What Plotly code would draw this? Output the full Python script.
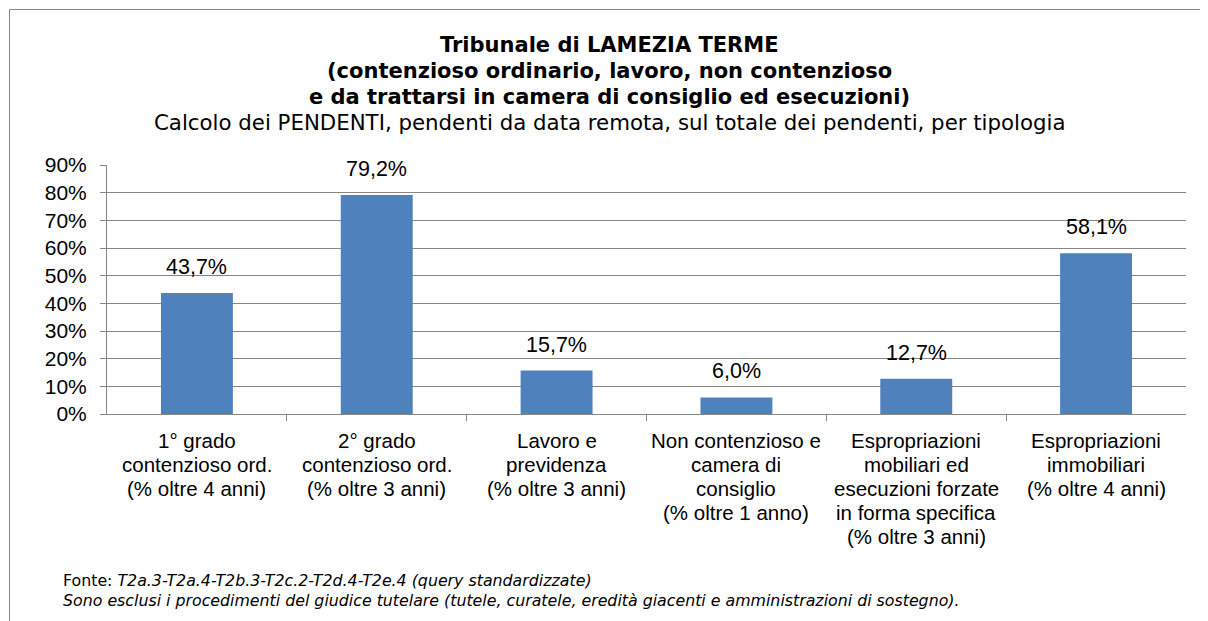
import plotly.graph_objects as go

categories = [
    "1° grado<br>contenzioso ord.<br>(% oltre 4 anni)",
    "2° grado<br>contenzioso ord.<br>(% oltre 3 anni)",
    "Lavoro e<br>previdenza<br>(% oltre 3 anni)",
    "Non contenzioso e<br>camera di<br>consiglio<br>(% oltre 1 anno)",
    "Espropriazioni<br>mobiliari ed<br>esecuzioni forzate<br>in forma specifica<br>(% oltre 3 anni)",
    "Espropriazioni<br>immobiliari<br>(% oltre 4 anni)",
]
values = [0.437, 0.792, 0.157, 0.060, 0.127, 0.581]
value_labels = ["43,7%", "79,2%", "15,7%", "6,0%", "12,7%", "58,1%"]
y_ticks = [0, 0.1, 0.2, 0.3, 0.4, 0.5, 0.6, 0.7, 0.8, 0.9]
y_tick_labels = ["0%", "10%", "20%", "30%", "40%", "50%", "60%", "70%", "80%", "90%"]

title_lines = [
    "<b>Tribunale di LAMEZIA TERME</b>",
    "<b>(contenzioso ordinario, lavoro, non contenzioso</b>",
    "<b>e da trattarsi in camera di consiglio ed esecuzioni)</b>",
]
subtitle = "Calcolo dei PENDENTI, pendenti da data remota, sul totale dei pendenti, per tipologia"
footer_lines = [
    "Fonte: <i>T2a.3-T2a.4-T2b.3-T2c.2-T2d.4-T2e.4 (query standardizzate)</i>",
    "<i>Sono esclusi i procedimenti del giudice tutelare (tutele, curatele, eredità giacenti e amministrazioni di sostegno).</i>",
]

OFF = 8  # page body margin
W, H = 1208 - OFF, 621 - OFF
L, R, T, B = 107 - OFF, 1186 - OFF, 165 - OFF, 414 - OFF

def px(x):
    return (x - OFF - L) / (R - L)

def py(y):
    return (B - (y - OFF)) / (B - T)

fig = go.Figure()
fig.add_trace(go.Bar(
    x=list(range(len(values))), y=values, width=0.4,
    marker=dict(color="#4F81BD", line=dict(width=0)),
    hoverinfo="skip",
))

annotations = []
for i, (v, t) in enumerate(zip(values, value_labels)):
    annotations.append(dict(x=i, y=v, xref="x", yref="y", text=t, showarrow=False,
                            yanchor="middle", yshift=26,
                            font=dict(family="Liberation Sans, Arial", size=21.5, color="#000")))

cat_font = dict(family="Liberation Sans, Arial", size=20.5, color="#000")
for i, c in enumerate(categories):
    for j, line in enumerate(c.split("<br>")):
        annotations.append(dict(x=i, y=0, xref="x", yref="y", text=line, showarrow=False,
                                xanchor="center", yanchor="middle", yshift=-(26 + 24 * j),
                                font=cat_font))

title_y = [45, 71, 97]
for t, yy in zip(title_lines, title_y):
    annotations.append(dict(x=px(609), y=py(yy), xref="paper", yref="paper", text=t,
                            showarrow=False, xanchor="center", yanchor="middle",
                            font=dict(family="Verdana, DejaVu Sans", size=21, color="#000")))
annotations.append(dict(x=px(610), y=py(122), xref="paper", yref="paper", text=subtitle,
                        showarrow=False, xanchor="center", yanchor="middle",
                        font=dict(family="Verdana, DejaVu Sans", size=21.3, color="#000")))
for t, yy in zip(footer_lines, [580, 600]):
    annotations.append(dict(x=px(61), y=py(yy), xref="paper", yref="paper", text=t,
                            showarrow=False, xanchor="left", yanchor="middle",
                            font=dict(family="Verdana, DejaVu Sans", size=15.8, color="#000")))

fig.update_layout(
    width=W, height=H,
    margin=dict(l=L, r=W - R, t=T, b=H - B),
    paper_bgcolor="white", plot_bgcolor="white",
    showlegend=False,
    annotations=annotations,
    shapes=[dict(type="rect", xref="paper", yref="paper",
                 x0=px(9.5), x1=px(1230), y0=py(660), y1=py(9.5),
                 line=dict(color="#888888", width=1))],
    xaxis=dict(
        range=[-0.5, len(values) - 0.5],
        tickvals=[i + 0.5 for i in range(len(values) - 1)], ticktext=[""] * (len(values) - 1),
        showline=True, linecolor="#868686", linewidth=1,
        ticks="outside", ticklen=6, tickcolor="#868686",
        showgrid=False, zeroline=False,
    ),
    yaxis=dict(
        range=[0, 0.9], tickvals=y_ticks, ticktext=y_tick_labels,
        showgrid=True, gridcolor="#868686", gridwidth=1,
        showline=True, linecolor="#868686", linewidth=1,
        ticks="outside", ticklen=6, tickcolor="#868686",
        ticklabelstandoff=9,
        tickfont=dict(family="Liberation Sans, Arial", size=21, color="#000"),
        zeroline=False,
    ),
)

fig.write_html("out.html")
